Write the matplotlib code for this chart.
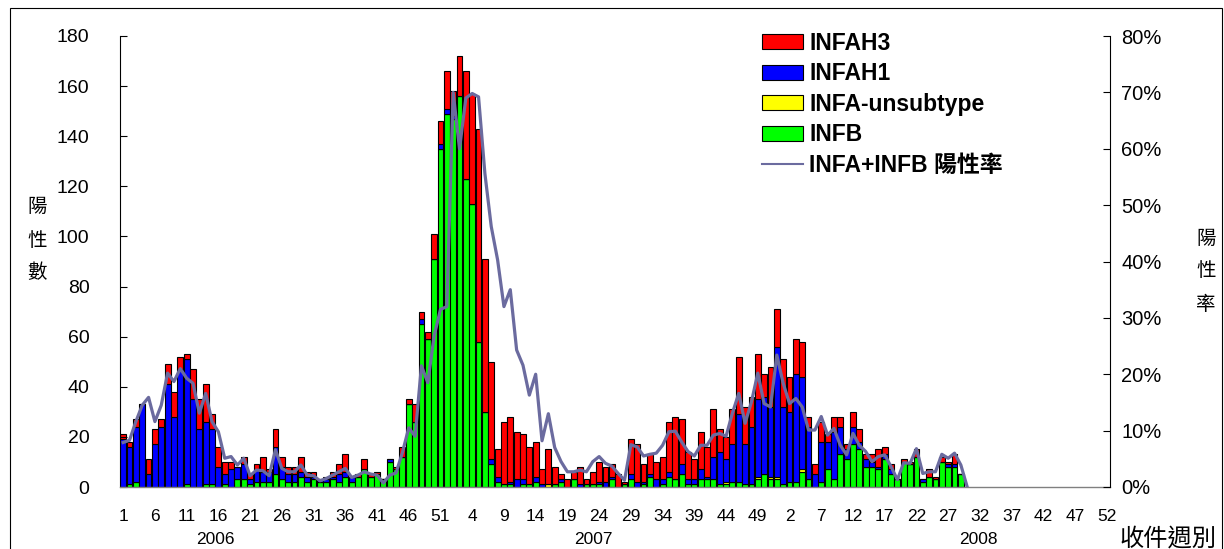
import numpy as np
import matplotlib
matplotlib.use("Agg")
import matplotlib.pyplot as plt
from matplotlib.patches import Patch, Rectangle
from matplotlib.lines import Line2D
from matplotlib.ticker import FuncFormatter

plt.rcParams['font.family'] = ['Liberation Sans', 'Noto Sans CJK TC', 'DejaVu Sans']

# weekly counts, 2006 wk1 .. 2008 wk29
infah3 = [2, 2, 3, 0, 6, 6, 3, 8, 10, 5, 2, 12, 12, 15, 6, 8, 5, 3, 0, 3,
          2, 2, 6, 1, 7, 4, 3, 3, 6, 2, 2, 0, 1, 2, 4, 7, 0, 1, 4, 1,
          1, 0, 0, 1, 4, 2, 7, 3, 3, 10, 9, 15, 10, 16, 43, 44, 85, 61, 39, 11,
          25, 26, 19, 18, 15, 14, 6, 14, 7, 2, 3, 3, 7, 2, 5, 8, 6, 5, 5, 1,
          14, 15, 7, 8, 7, 9, 20, 25, 18, 11, 8, 15, 12, 19, 9, 9, 14, 23, 15, 12,
          18, 9, 16, 15, 19, 14, 14, 14, 4, 4, 8, 3, 6, 4, 2, 6, 5, 2, 3, 7,
          3, 2, 0, 1, 1, 3, 0, 3, 1, 2, 1, 4, 0]
infah1 = [19, 15, 22, 33, 5, 17, 24, 41, 28, 47, 50, 35, 23, 25, 22, 8, 4, 7, 5, 6,
          2, 5, 4, 4, 11, 5, 3, 3, 2, 2, 1, 1, 1, 1, 3, 2, 2, 0, 0, 0,
          0, 0, 1, 0, 0, 0, 0, 2, 0, 0, 2, 2, 1, 0, 0, 0, 0, 0, 2, 2,
          0, 1, 3, 2, 0, 2, 1, 0, 0, 1, 0, 0, 1, 0, 0, 1, 2, 1, 0, 0,
          2, 2, 1, 1, 3, 2, 2, 0, 4, 2, 2, 4, 1, 9, 13, 9, 15, 27, 16, 23,
          31, 31, 28, 52, 31, 28, 43, 37, 21, 5, 16, 11, 19, 11, 4, 7, 3, 3, 2, 1,
          2, 2, 0, 0, 0, 0, 1, 0, 0, 0, 1, 1, 0]
infa_unsub = [0] * 67 + [1] + [0] * 27 + [1, 0, 0, 0, 0, 1, 0, 1, 1, 0, 0, 0, 1] + [0] * 25
infb = [0, 1, 2, 0, 0, 0, 0, 0, 0, 0, 1, 0, 0, 1, 1, 0, 1, 0, 3, 3,
        1, 2, 2, 2, 5, 3, 2, 2, 4, 2, 3, 2, 2, 3, 2, 4, 2, 4, 7, 4,
        5, 3, 10, 7, 12, 33, 26, 65, 59, 91, 135, 149, 147, 156, 123, 113, 58, 30, 9, 2,
        1, 1, 0, 1, 1, 2, 0, 0, 1, 2, 0, 3, 0, 1, 1, 1, 0, 3, 0, 1,
        3, 0, 1, 4, 0, 1, 4, 3, 5, 1, 1, 3, 3, 3, 1, 1, 2, 2, 1, 1,
        3, 5, 3, 3, 1, 2, 2, 6, 3, 0, 2, 7, 3, 13, 11, 17, 15, 8, 8, 7,
        11, 5, 3, 10, 9, 12, 2, 4, 3, 10, 8, 8, 5]
# positive rate (%), one more point where the line returns to 0
pos_rate = [7.9, 8.3, 11.6, 14.5, 15.9, 11.6, 14.5, 20.2, 18.7, 21.0,
            19.3, 18.4, 13.1, 16.6, 11.6, 9.8, 5.1, 5.4, 3.9, 5.1,
            2.0, 3.0, 2.9, 2.0, 6.6, 3.3, 2.7, 2.7, 3.9, 2.1,
            2.0, 1.1, 1.5, 2.1, 2.7, 3.3, 1.7, 2.1, 2.7, 2.3,
            2.1, 0.7, 2.1, 2.5, 6.1, 10.5, 9.0, 21.5, 18.5, 26.8,
            31.5, 32.0, 70.0, 60.0, 69.0, 69.8, 69.2, 55.6, 46.2, 40.3,
            32.0, 35.0, 24.3, 21.6, 16.3, 20.0, 8.2, 13.0, 7.0, 4.5,
            2.7, 2.7, 3.0, 2.7, 4.5, 5.4, 4.2, 3.7, 2.4, 1.2,
            7.5, 7.1, 5.5, 5.8, 6.0, 7.4, 9.8, 9.9, 8.0, 6.3,
            5.5, 7.4, 7.4, 9.2, 9.5, 9.0, 13.1, 16.6, 11.3, 15.1,
            20.2, 14.8, 14.2, 23.4, 18.4, 14.8, 15.7, 14.2, 10.1, 10.1,
            12.5, 9.2, 10.4, 7.4, 5.7, 9.5, 7.4, 6.3, 4.5, 5.4,
            5.7, 3.6, 1.3, 4.3, 4.2, 6.8, 2.4, 2.7, 2.7, 5.8,
            5.1, 6.0, 3.9, 0.0]

week_labels = ['1', '6', '11', '16', '21', '26', '31', '36', '41', '46', '51',
               '4', '9', '14', '19', '24', '29', '34', '39', '44', '49',
               '2', '7', '12', '17', '22', '27', '32', '37', '42', '47', '52']
years = ['2006', '2007', '2008']
n_weeks = 156

h3 = np.array(infah3)
h1 = np.array(infah1)
ua = np.array(infa_unsub)
b = np.array(infb)
x = np.arange(len(h3))

W, H = 1224, 549
narrow = ['Liberation Sans Narrow', 'Liberation Sans']
fig = plt.figure(figsize=(W / 100, H / 100), dpi=100)
ax = fig.add_axes([120 / W, 1 - 487 / H, 990 / W, 451 / H])
ax2 = ax.twinx()

ec = dict(edgecolor='black', linewidth=0.8, width=0.92)
ax.bar(x, b, color='#00FF00', **ec)
ax.bar(x, ua, bottom=b, color='#FFFF00', **ec)
ax.bar(x, h1, bottom=b + ua, color='#0000FF', **ec)
ax.bar(x, h3, bottom=b + ua + h1, color='#FF0000', **ec)

ax2.plot(np.arange(len(pos_rate)), pos_rate, color='#6B6B9F', lw=2.3, solid_joinstyle='round')

ax.set_xlim(-0.5, n_weeks - 0.5)
ax.set_ylim(0, 180)
ax.set_yticks(range(0, 181, 20))
ax2.set_ylim(0, 80)
ax2.set_yticks(range(0, 81, 10))
ax2.yaxis.set_major_formatter(FuncFormatter(lambda v, p: f"{int(v)}%"))

ax.set_xticks(np.arange(0, n_weeks, 5))
ax.set_xticklabels(week_labels, family=narrow, fontsize=12.5)
ax.tick_params(axis='x', length=0, pad=16)
ax.tick_params(axis='y', direction='in', length=5, labelsize=14, pad=22, width=0.8)
ax2.tick_params(axis='y', direction='in', length=5, labelsize=14.5, pad=8, width=0.8)

for a in (ax, ax2):
    a.spines['top'].set_visible(False)
ax2.spines['left'].set_visible(False)
ax2.spines['bottom'].set_visible(False)
ax.spines['right'].set_visible(False)
ax.spines['bottom'].set_color('#808080')
ax.spines['bottom'].set_linewidth(1.0)
ax.spines['left'].set_linewidth(0.8)
ax2.spines['right'].set_linewidth(0.8)

# year labels under the week numbers
for yr, xp in zip(years, [215, 593, 978]):
    fig.text(xp / W, 1 - 539 / H, yr, ha='center', va='center', fontsize=12.5, family=narrow)

fig.text(37 / W, 1 - 240 / H, "陽\n性\n數", ha='center', va='center', fontsize=14,
         linespacing=1.75, family=['Noto Sans CJK TC'])
fig.text(1206 / W, 1 - 271 / H, "陽\n性\n率", ha='center', va='center', fontsize=14,
         linespacing=1.75, family=['Noto Sans CJK TC'])
fig.text(1168 / W, 1 - 538 / H, "收件週別", ha='center', va='center', fontsize=17.5,
         family=['Noto Sans CJK TC'])

handles = [Patch(facecolor='#FF0000', edgecolor='black', linewidth=0.8),
           Patch(facecolor='#0000FF', edgecolor='black', linewidth=0.8),
           Patch(facecolor='#FFFF00', edgecolor='black', linewidth=0.8),
           Patch(facecolor='#00FF00', edgecolor='black', linewidth=0.8),
           Line2D([], [], color='#6B6B9F', lw=1.5)]
labels = ['INFAH3', 'INFAH1', 'INFA-unsubtype', 'INFB', 'INFA+INFB 陽性率']
ax2.legend(handles, labels, loc='upper left', bbox_to_anchor=(741 / W, 1 - 11 / H),
           bbox_transform=fig.transFigure, frameon=False, handlelength=1.8,
           handleheight=0.63, handletextpad=0.28, labelspacing=0.33,
           prop={'family': ['Liberation Sans', 'Noto Sans CJK TC'], 'weight': 'bold', 'size': 16.5})

# outer frame
fig.patches.append(Rectangle((10 / W, -0.02), 1212 / W, 1.02 - 8 / H, transform=fig.transFigure,
                             fill=False, edgecolor='black', linewidth=0.8))

fig.savefig('out.png', dpi=100)
